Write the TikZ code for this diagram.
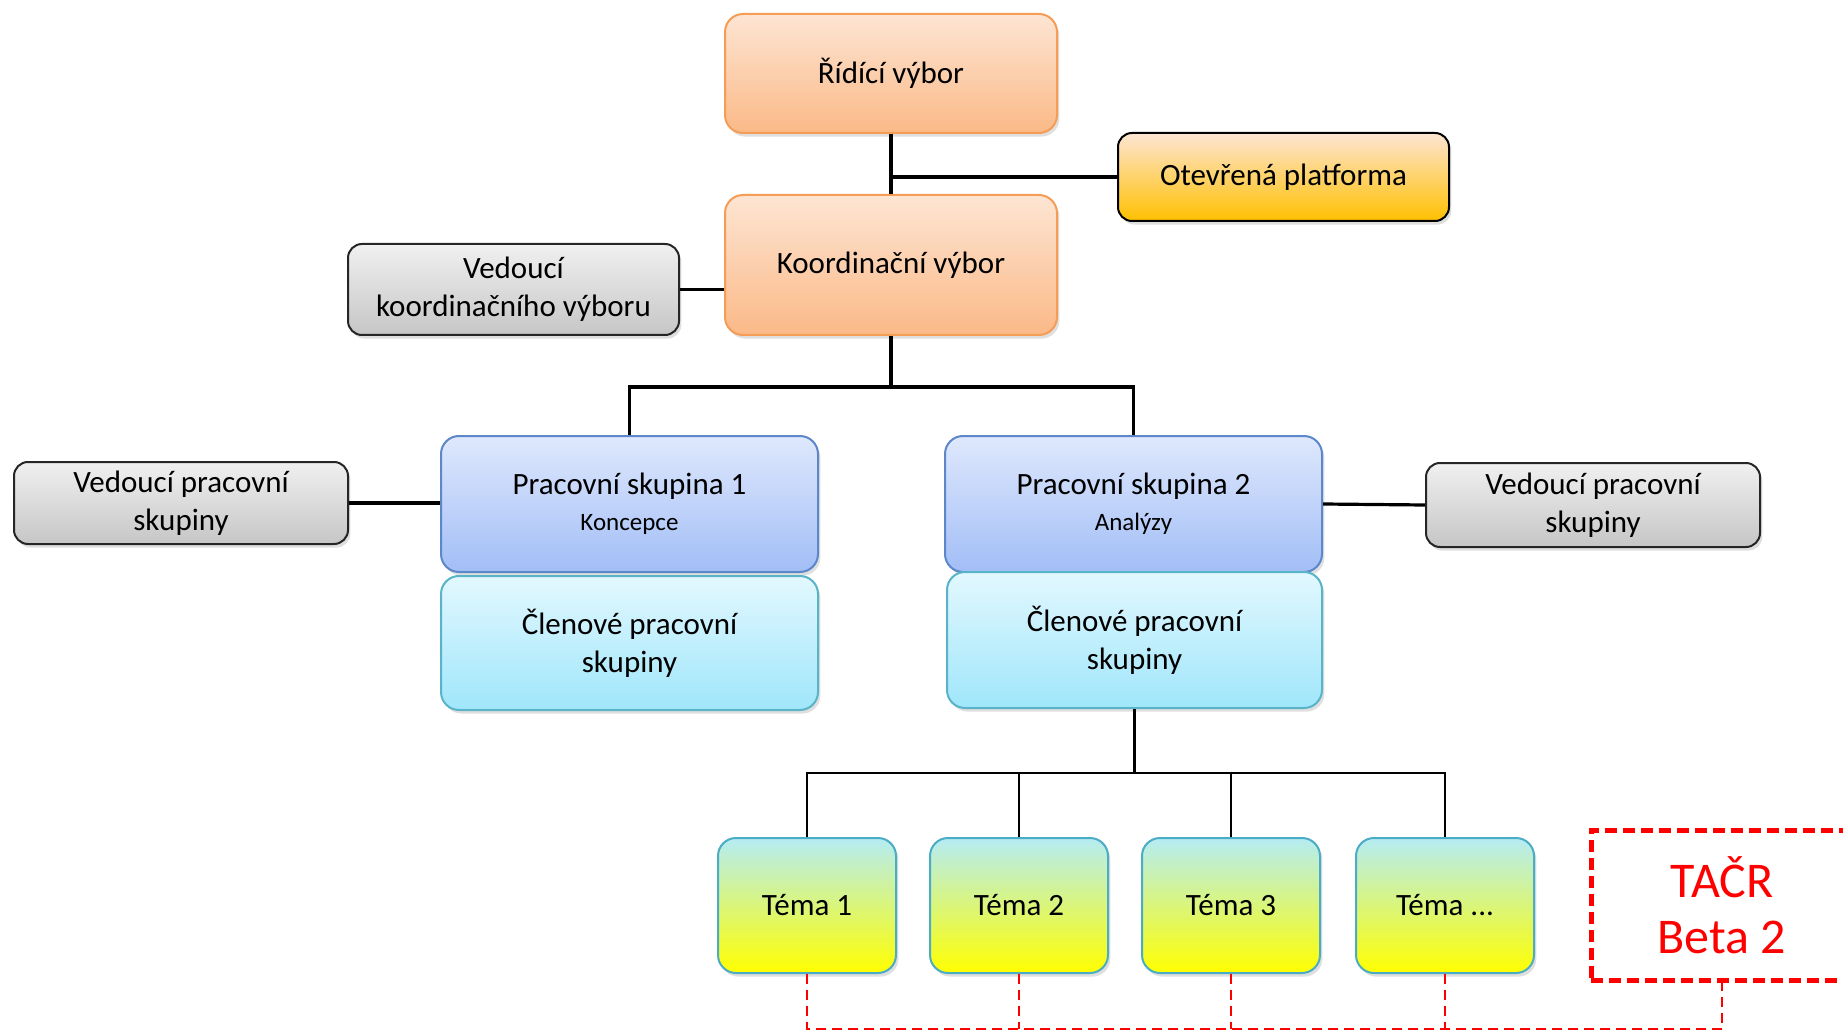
\documentclass[tikz,border=0pt]{standalone}
\usepackage{fontspec}
\setmainfont{Carlito}
\usetikzlibrary{shadows}
\definecolor{orT}{HTML}{FDE5D3}
\definecolor{orB}{HTML}{FBB987}
\definecolor{orD}{HTML}{F59D56}
\definecolor{goB}{HTML}{FFC000}
\definecolor{grT}{HTML}{F0F0F0}
\definecolor{grB}{HTML}{C6C6C6}
\definecolor{blT}{HTML}{DFE8FD}
\definecolor{blB}{HTML}{A2BEF6}
\definecolor{blD}{HTML}{5C87C9}
\definecolor{cyT}{HTML}{E3F8FE}
\definecolor{cyB}{HTML}{9FE6FB}
\definecolor{cyD}{HTML}{5AB4C8}
\definecolor{tmT}{HTML}{B5ECF4}
\definecolor{tmB}{HTML}{FFFF00}
\definecolor{tmD}{HTML}{4BACC6}
\definecolor{tacr}{HTML}{FF0000}
\begin{document}
\begin{tikzpicture}[x=0.5pt,y=-0.5pt,
  box/.style={rounded corners=9pt, align=center, inner sep=0pt, line width=1pt,
    drop shadow={opacity=0.25, shadow xshift=1.2pt, shadow yshift=-1.8pt},
    font=\fontsize{15.5}{19}\selectfont},
  orbox/.style={box, draw=orD, top color=orT, bottom color=orB},
  gobox/.style={box, draw=black, top color=orT, bottom color=goB, rounded corners=7pt},
  grbox/.style={box, draw=black!85, top color=grT, bottom color=grB, rounded corners=7pt},
  blbox/.style={box, draw=blD, top color=blT, bottom color=blB},
  cybox/.style={box, draw=cyD, top color=cyT, bottom color=cyB},
  tmbox/.style={box, draw=tmD, top color=tmT, bottom color=tmB, minimum width=89pt, minimum height=67.5pt},
  conn/.style={line width=1.6pt, black},
  reddash/.style={line width=1.2pt, tacr, dash pattern=on 5pt off 3pt},
  subtext/.style={font=\fontsize{12.5}{15}\selectfont}
]
\useasboundingbox (0,0) rectangle (1843,1032);
\clip (0,0) rectangle (1843,1032);

\node[orbox, minimum width=166pt, minimum height=59.5pt] (R) at (891,73.5) {Řídící výbor};
\node[gobox, minimum width=165.5pt, minimum height=44pt] (O) at (1283.5,177) {Otevřená platforma};
\node[orbox, minimum width=166pt, minimum height=70pt] (K) at (891,265) {Koordinační výbor};
\node[grbox, minimum width=165.5pt, minimum height=45.5pt] (VK) at (513.5,289.5) {Vedoucí\\koordinačního výboru};

\node[blbox, minimum width=188.5pt, minimum height=68pt] (PS1) at (629.5,504) {Pracovní skupina 1\\[-1pt]{\fontsize{12.5}{15}\selectfont Koncepce}};
\node[blbox, minimum width=188.5pt, minimum height=68pt] (PS2) at (1133.5,504) {Pracovní skupina 2\\[-1pt]{\fontsize{12.5}{15}\selectfont Analýzy}};
\node[cybox, minimum width=188.5pt, minimum height=67pt] (C1) at (629.5,643) {Členové pracovní\\skupiny};
\node[cybox, minimum width=187.5pt, minimum height=68pt] (C2) at (1134.5,640) {Členové pracovní\\skupiny};
\node[grbox, minimum width=167pt, minimum height=41pt] (VL) at (181,503) {Vedoucí pracovní\\skupiny};
\node[grbox, minimum width=167pt, minimum height=42pt] (VR) at (1593,505) {Vedoucí pracovní\\skupiny};

\node[tmbox] (T1) at (807,905.5) {Téma 1};
\node[tmbox] (T2) at (1019,905.5) {Téma 2};
\node[tmbox] (T3) at (1231,905.5) {Téma 3};
\node[tmbox] (T4) at (1445,905.5) {Téma ...};

\node[draw=tacr, line width=2.5pt, dash pattern=on 6pt off 3pt, text=tacr, align=center,
  minimum width=131pt, minimum height=75pt, inner sep=0pt,
  font=\fontsize{25}{28}\selectfont] (TA) at (1722,905) {TAČR\\Beta 2};

% connectors
\coordinate (j1) at (891,177);
\draw[conn] (R.south) -- (K.north);
\draw[conn] (j1) -- (O.west);
\draw[conn] (VK.east) -- (VK.east -| K.west);

\path (K.south) ++(0,51) coordinate (b1);
\draw[conn] (K.south) -- (b1);
\draw[conn] (PS1.north) |- (b1) -| (PS2.north);

\draw[conn] (VL.east) -- (VL.east -| PS1.west);
\draw[conn] (PS2.east) -- (VR.west);

\path (C2.south) ++(0,64) coordinate (b2);
\draw[conn, line width=1.4pt] (C2.south) -- (b2);
\draw[conn, line width=1.4pt] (T1.north) |- (b2) -| (T4.north);
\draw[conn, line width=1.4pt] (T2.north) -- (T2.north |- b2);
\draw[conn, line width=1.4pt] (T3.north) -- (T3.north |- b2);

\coordinate (rb) at (0,1029);
\draw[reddash] (T1.south) -- (T1.south |- rb) -- (TA.south |- rb) -- (TA.south);
\draw[reddash] (T2.south) -- (T2.south |- rb);
\draw[reddash] (T3.south) -- (T3.south |- rb);
\draw[reddash] (T4.south) -- (T4.south |- rb);
\end{tikzpicture}
\end{document}
